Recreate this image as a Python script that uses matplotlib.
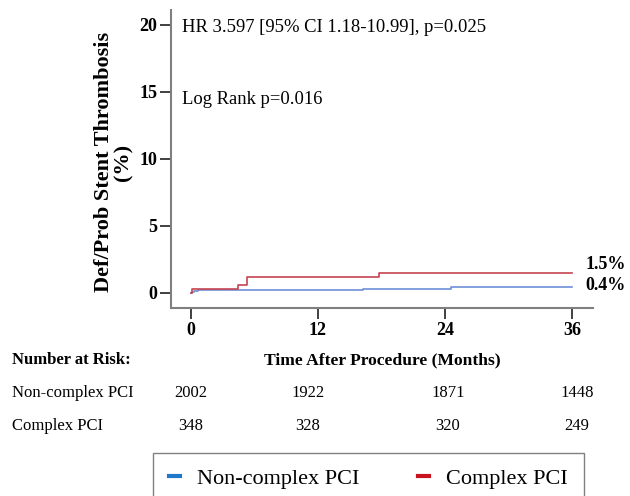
import matplotlib.pyplot as plt
from matplotlib.lines import Line2D

plt.rcParams['font.family'] = ['Liberation Serif', 'DejaVu Serif']

# Kaplan-Meier style cumulative incidence (%)
t_noncomplex = [0, 0.1, 0.3, 0.7, 16.3, 24.6, 36]
y_noncomplex = [0, 0.08, 0.15, 0.22, 0.30, 0.42, 0.42]
t_complex = [0, 0.05, 4.4, 5.3, 17.8, 36]
y_complex = [0, 0.28, 0.60, 1.19, 1.49, 1.49]

x_ticks = [0, 12, 24, 36]
y_ticks = [0, 5, 10, 15, 20]

risk_groups = ['Non-complex PCI', 'Complex PCI']
risk_noncomplex = [2002, 1922, 1871, 1448]
risk_complex = [348, 328, 320, 249]
risk_x_px = [191, 308, 448, 577]   # column centres in the table

end_labels = ['1.5%', '0.4%']

blue_line = '#6f8fd8'
red_line = '#c64450'
blue_key = '#1f78c8'
red_key = '#c8141e'
grey = '#7f7f7f'

W, H = 630, 496
fig = plt.figure(figsize=(W / 100, H / 100), dpi=100)
ax = fig.add_axes([171 / W, 1 - 308 / H, 422 / W, 298 / H])

ax.step(t_noncomplex, y_noncomplex, where='post', color=blue_line, lw=1.2)
ax.step(t_complex, y_complex, where='post', color=red_line, lw=1.2)

ax.set_xlim(-1.9, 38.0)
ax.set_ylim(-1.12, 21.1)
ax.set_xticks(x_ticks)
ax.set_yticks(y_ticks)
for s in ['top', 'right']:
    ax.spines[s].set_visible(False)
for s in ['left', 'bottom']:
    ax.spines[s].set_color(grey)
    ax.spines[s].set_linewidth(1.5)
ax.tick_params(colors='black', width=1.4, length=8, labelsize=13, pad=2)
ax.tick_params(axis='both', color='#404040')
for lab in ax.get_xticklabels() + ax.get_yticklabels():
    lab.set_fontweight('bold')

ax.set_ylabel('Def/Prob Stent Thrombosis\n(%)', fontsize=16, fontweight='bold',
              linespacing=0.95)
ax.yaxis.set_label_coords(-0.089, 0.49)
ax.set_xlabel('Time After Procedure (Months)', fontsize=12.6, fontweight='bold',
              va='center')
ax.xaxis.set_label_coords(0.5, -0.175)

ax.text(0.026, 0.94, 'HR 3.597 [95% CI 1.18-10.99], p=0.025', transform=ax.transAxes,
        fontsize=13.4, va='center', ha='left')
ax.text(0.026, 0.698, 'Log Rank p=0.016', transform=ax.transAxes,
        fontsize=13.4, va='center', ha='left')

# end-of-curve percentages
ax.text(0.983, 0.145, end_labels[0], transform=ax.transAxes, fontsize=13,
        fontweight='bold', va='center', ha='left', clip_on=False)
ax.text(0.983, 0.075, end_labels[1], transform=ax.transAxes, fontsize=13,
        fontweight='bold', va='center', ha='left', clip_on=False)

# number at risk table
fig.text(12 / W, 1 - 360 / H, 'Number at Risk:', fontsize=12, fontweight='bold',
         va='center', ha='left')
rows = [risk_noncomplex, risk_complex]
row_y = [393, 426]
for name, vals, yy in zip(risk_groups, rows, row_y):
    fig.text(12 / W, 1 - yy / H, name, fontsize=12, va='center', ha='left')
    for xp, v in zip(risk_x_px, vals):
        fig.text(xp / W, 1 - yy / H, str(v), fontsize=12, va='center', ha='center')

handles = [Line2D([], [], color=blue_key, lw=3),
           Line2D([], [], color=red_key, lw=3)]
leg = fig.legend(handles, risk_groups, ncol=2, loc='upper left',
                 bbox_to_anchor=(153 / W, 1 - 453 / H), fontsize=16,
                 handlelength=0.5, handletextpad=0.8, columnspacing=2.6,
                 borderpad=0.7, borderaxespad=0, frameon=True, fancybox=False)
leg.get_frame().set_edgecolor('#606060')
leg.get_frame().set_linewidth(1.0)

fig.savefig('out.png', dpi=100)
